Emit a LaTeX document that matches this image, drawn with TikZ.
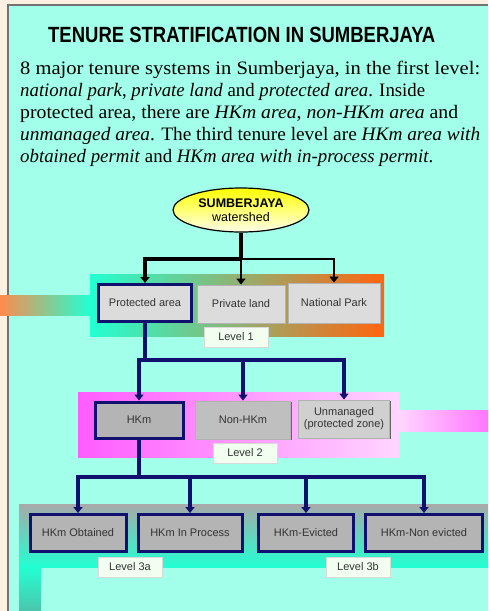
\documentclass[tikz,border=0pt]{standalone}
\usepackage{fontspec}
\setmainfont{Liberation Serif}
\setsansfont{Liberation Sans}
\usetikzlibrary{shapes.geometric, arrows.meta, shadows}

\definecolor{pagebg}{HTML}{FFF1E2}
\definecolor{panelbg}{HTML}{A2FFEA}
\definecolor{navyline}{HTML}{10106E}
\definecolor{boxlight}{HTML}{DCDCDC}
\definecolor{boxgrey}{HTML}{B4B4B4}
\definecolor{levelfill}{HTML}{F2FFF0}
\definecolor{aqua}{HTML}{22FFD2}
\definecolor{rust}{HTML}{FF6410}
\definecolor{pinkdeep}{HTML}{FF5CFF}
\definecolor{pinklight}{HTML}{FFD6FF}
\definecolor{bandgrey}{HTML}{A9A9A9}

% body line stretched to the width it has in the poster
\newcommand{\bodytext}[2]{\resizebox{#1pt}{\height}{\fontsize{19}{22}\selectfont #2}}

\begin{document}
\begin{tikzpicture}[x=1pt, y=-1pt,
    boxfont/.style={font=\sffamily\fontsize{11}{12}\selectfont, text=black!80},
    navybox/.style={rectangle, draw=navyline, line width=3pt, fill=boxgrey, boxfont, align=center},
    greybox/.style={rectangle, draw=gray!60, line width=0.8pt, fill=boxlight, boxfont, align=center,
        drop shadow={shadow xshift=1pt, shadow yshift=-1pt, fill=black!60, opacity=1}},
    levelbox/.style={rectangle, draw=gray!30, fill=levelfill, minimum width=64pt, minimum height=20pt, boxfont,
        drop shadow={shadow xshift=1pt, shadow yshift=-1pt, fill=black!70, opacity=1}},
    bodyline/.style={anchor=base west, inner sep=0pt},
    link/.style={line width=2.5pt, -{Triangle[width=9pt,length=6pt]}},
    navylink/.style={link, draw=navyline, line width=4pt}]
    % Page and panel
    \useasboundingbox (0,0) rectangle (488,611);
    \fill[pagebg] (0,0) rectangle (488,611);
    \fill[panelbg] (8,5) rectangle (488,611);
    \draw[black!55, line width=1.5pt] (8,611) -- (8,5) -- (488,5);

    % Title and text
    \node[anchor=base west, inner sep=0pt] (title) at (48,42)
        {\scalebox{0.84}[1]{\sffamily\bfseries\fontsize{22}{26}\selectfont TENURE STRATIFICATION IN SUMBERJAYA}};
    \node[bodyline] (line1) at (20,74) {\bodytext{460}{8 major tenure systems in Sumberjaya, in the first level:}};
    \node[bodyline] (line2) at (20,96) {\bodytext{405}{\textit{national park}, \textit{private land} and \textit{protected area}. Inside}};
    \node[bodyline] (line3) at (20,118) {\bodytext{438}{protected area, there are \textit{HKm area}, \textit{non-HKm area} and}};
    \node[bodyline] (line4) at (20,140) {\bodytext{460}{\textit{unmanaged area}. The third tenure level are \textit{HKm area with}}};
    \node[bodyline] (line5) at (20,162) {\bodytext{413}{\textit{obtained permit} and \textit{HKm area with in-process permit}.}};

    % Coloured bands behind each level
    \shade[left color=rust!75, right color=aqua] (0,295) rectangle (90,315);
    \shade[left color=aqua, right color=rust] (90,274) rectangle (384,336);
    \shade[left color=pinkdeep, right color=pinklight] (78,392) rectangle (399,457);
    \shade[left color=pinklight, right color=pinkdeep!85] (399,410) rectangle (488,431);
    \shade[top color=bandgrey, bottom color=aqua] (19,504) rectangle (488,567);
    \shade[top color=aqua, bottom color=aqua!55!gray] (19,567) rectangle (41,611);

    % Root
    \node[ellipse, draw, line width=1.2pt, top color=yellow, bottom color=yellow!8,
          minimum width=136pt, minimum height=44pt, inner sep=0pt, align=center,
          font=\sffamily\fontsize{12.5}{14}\selectfont] (sum) at (241,210)
        {\textbf{SUMBERJAYA}\\watershed};

    % Level 1
    \node[navybox, fill=boxlight, minimum width=93pt, minimum height=37pt] (prot) at (145,303) {Protected area};
    \node[greybox, minimum width=88pt, minimum height=38pt] (priv) at (241,304) {Private land};
    \node[greybox, minimum width=92pt, minimum height=40pt] (natp) at (334,303) {National Park};
    \node[levelbox] (lev1) at (236,337) {Level 1};

    % Level 2
    \node[navybox, minimum width=88pt, minimum height=36pt] (hkm) at (139,420) {HKm};
    \node[greybox, fill=gray!50, minimum width=95pt, minimum height=38pt] (nonhkm) at (243,420) {Non-HKm};
    \node[greybox, fill=gray!37, minimum width=91pt, minimum height=38pt] (unman) at (344,419) {Unmanaged\\(protected zone)};
    \node[levelbox] (lev2) at (245,453) {Level 2};

    % Level 3
    \node[navybox, minimum width=96pt, minimum height=37pt] (obt) at (78,533) {HKm Obtained};
    \node[navybox, minimum width=104pt, minimum height=37pt] (inproc) at (190,533) {HKm In Process};
    \node[navybox, minimum width=95pt, minimum height=37pt] (evict) at (306,533) {HKm-Evicted};
    \node[navybox, minimum width=117pt, minimum height=37pt] (nonev) at (424,533) {HKm-Non evicted};
    \node[levelbox] (lev3a) at (130,567) {Level 3a};
    \node[levelbox] (lev3b) at (358,567) {Level 3b};

    % Connectors
    \coordinate (j1) at (241,259);
    \coordinate (j2) at (243,360);
    \coordinate (j3) at (139,477);
    \draw[line width=4pt] (sum.south) -- (j1);
    \draw[link, line width=3.5pt] (j1) -| (prot.north);
    \draw[link] (j1) -- (priv.north);
    \draw[link] (j1) -| (natp.north);
    \draw[draw=navyline, line width=4pt] (prot.south) -- (prot.south |- j2);
    \draw[navylink] (j2) -| (hkm.north);
    \draw[navylink] (j2) -- (nonhkm.north);
    \draw[navylink] (j2) -| (unman.north);
    \draw[draw=navyline, line width=4pt] (hkm.south) -- (j3);
    \draw[navylink] (j3) -| (obt.north);
    \draw[navylink] (j3) -| (inproc.north);
    \draw[navylink] (j3) -| (evict.north);
    \draw[navylink] (j3) -| (nonev.north);
\end{tikzpicture}
\end{document}
